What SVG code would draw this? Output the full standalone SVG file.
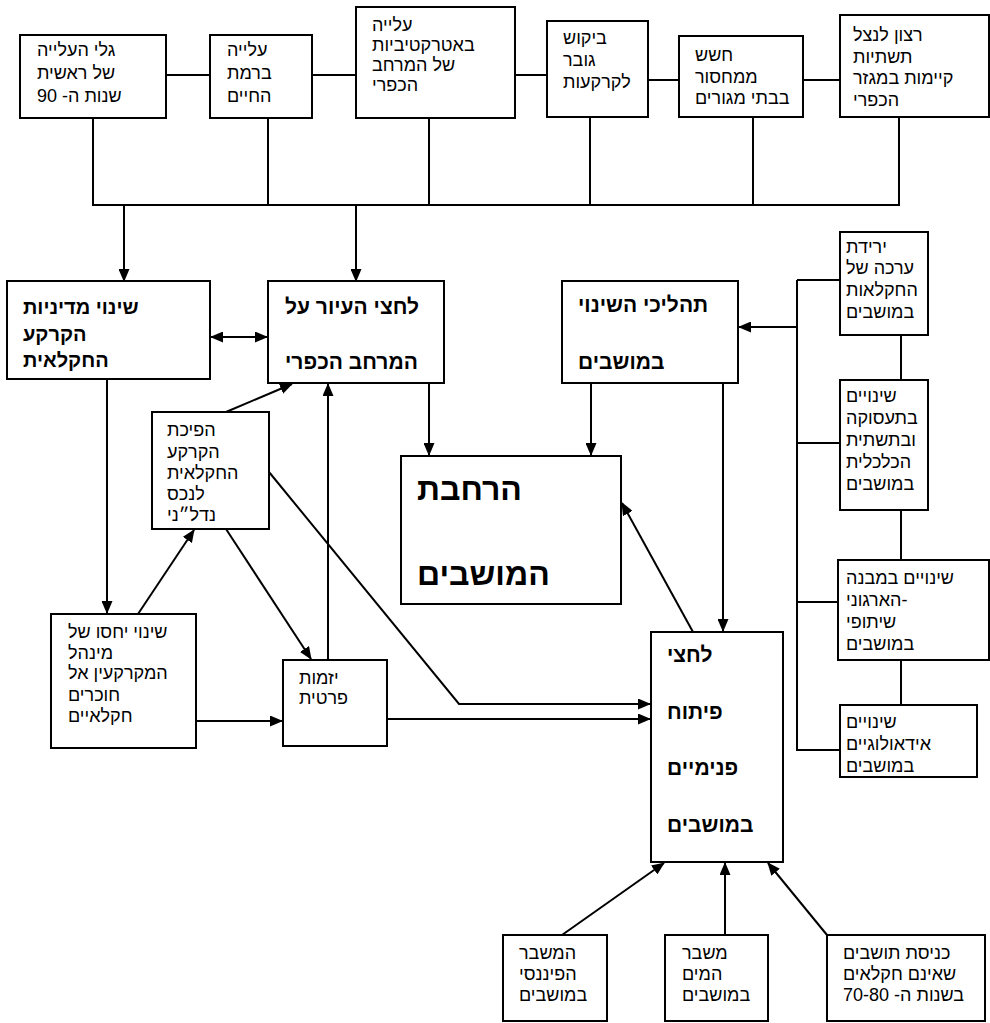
<svg xmlns="http://www.w3.org/2000/svg" width="990" height="1023" viewBox="0 0 990 1023">
<defs>
<marker id="ah" markerUnits="userSpaceOnUse" markerWidth="13" markerHeight="11" refX="12" refY="5.5" orient="auto-start-reverse" viewBox="0 0 13 11">
<path d="M0,0 L13,5.5 L0,11 z" fill="#000"/>
</marker>
<style>
rect{fill:#fff;stroke:#000;stroke-width:2}
.t{font-family:"Liberation Sans","DejaVu Sans",sans-serif;font-size:18px;fill:#000}
.b{font-family:"Liberation Sans","DejaVu Sans",sans-serif;font-size:21px;font-weight:bold;fill:#000}
.B{font-family:"Liberation Sans","DejaVu Sans",sans-serif;font-size:32px;font-weight:bold;fill:#000}
.c line,.c polyline{stroke:#000;stroke-width:2;fill:none}
.a{marker-end:url(#ah)}
</style>
</defs>
<rect x="0" y="0" width="990" height="1023" style="fill:#fff;stroke:none"/>
<g class="c" id="connectors">
<line x1="166" y1="75" x2="210" y2="75"/>
<line x1="312" y1="75" x2="356" y2="75"/>
<line x1="515" y1="75" x2="547" y2="75"/>
<line x1="648" y1="80" x2="679" y2="80"/>
<line x1="803" y1="80" x2="840" y2="80"/>
<line x1="93" y1="118" x2="93" y2="205"/>
<line x1="268" y1="118" x2="268" y2="205"/>
<line x1="429" y1="118" x2="429" y2="205"/>
<line x1="590" y1="117" x2="590" y2="205"/>
<line x1="753" y1="117" x2="753" y2="205"/>
<line x1="899" y1="117" x2="899" y2="205"/>
<line x1="92" y1="205" x2="900" y2="205"/>
<line class="a" x1="124" y1="205" x2="124" y2="281"/>
<line class="a" x1="356" y1="205" x2="356" y2="281"/>
<line class="a" x1="211" y1="337" x2="267" y2="337" style="marker-start:url(#ah)"/>
<line class="a" x1="107" y1="379" x2="107" y2="613"/>
<line class="a" x1="138" y1="614" x2="194" y2="530"/>
<line class="a" x1="226" y1="412" x2="292" y2="384"/>
<line class="a" x1="226" y1="529" x2="311" y2="659"/>
<line class="a" x1="328" y1="660" x2="328" y2="384"/>
<line class="a" x1="196" y1="721" x2="282" y2="721"/>
<polyline class="a" points="269,472 459,704 650,704"/>
<line class="a" x1="387" y1="719" x2="650" y2="719"/>
<line class="a" x1="429" y1="383" x2="429" y2="455"/>
<line class="a" x1="591" y1="383" x2="591" y2="455"/>
<line class="a" x1="723" y1="383" x2="723" y2="631"/>
<line class="a" x1="693" y1="632" x2="622" y2="503"/>
<line x1="797" y1="280" x2="797" y2="751"/>
<line x1="797" y1="280" x2="840" y2="280"/>
<line x1="797" y1="443" x2="840" y2="443"/>
<line x1="797" y1="602" x2="838" y2="602"/>
<line x1="797" y1="750" x2="840" y2="750"/>
<line class="a" x1="797" y1="327" x2="739" y2="327"/>
<line x1="901" y1="335" x2="901" y2="380"/>
<line x1="901" y1="510" x2="901" y2="560"/>
<line x1="901" y1="660" x2="901" y2="705"/>
<line class="a" x1="562" y1="935" x2="664" y2="863"/>
<line class="a" x1="725" y1="935" x2="725" y2="863"/>
<line class="a" x1="827" y1="935" x2="768" y2="863"/>
</g>
<g id="n_top1"><rect x="20" y="35" width="146" height="83"/>
<text class="t" x="37" y="56">גלי העלייה</text><text class="t" x="37" y="79">של ראשית</text><text class="t" x="37" y="102">שנות ה- 90</text></g>
<g id="n_top2"><rect x="210" y="35" width="102" height="83"/>
<text class="t" x="227" y="56">עלייה</text><text class="t" x="227" y="79">ברמת</text><text class="t" x="227" y="102">החיים</text></g>
<g id="n_top3"><rect x="356" y="7" width="159" height="111"/>
<text class="t" x="372" y="31">עלייה</text><text class="t" x="372" y="51">באטרקטיביות</text><text class="t" x="372" y="71">של המרחב</text><text class="t" x="372" y="91">הכפרי</text></g>
<g id="n_top4"><rect x="547" y="21" width="101" height="96"/>
<text class="t" x="563" y="44">ביקוש</text><text class="t" x="563" y="66">גובר</text><text class="t" x="563" y="88">לקרקעות</text></g>
<g id="n_top5"><rect x="679" y="36" width="124" height="81"/>
<text class="t" x="695" y="61">חשש</text><text class="t" x="695" y="83">ממחסור</text><text class="t" x="695" y="104">בבתי מגורים</text></g>
<g id="n_top6"><rect x="840" y="15" width="149" height="102"/>
<text class="t" x="853" y="41">רצון לנצל</text><text class="t" x="853" y="63">תשתיות</text><text class="t" x="853" y="84">קיימות במגזר</text><text class="t" x="853" y="106">הכפרי</text></g>
<g id="n_policy"><rect x="7" y="281" width="203" height="98"/>
<text class="b" x="23" y="314" style="font-size:20px">שינוי מדיניות</text><text class="b" x="23" y="341" style="font-size:20px">הקרקע</text><text class="b" x="23" y="367" style="font-size:20px">החקלאית</text></g>
<g id="n_urban"><rect x="268" y="281" width="176" height="102"/>
<text class="b" x="285" y="314">לחצי העיור על</text><text class="b" x="285" y="369">המרחב הכפרי</text></g>
<g id="n_change"><rect x="562" y="281" width="176" height="102"/>
<text class="b" x="578" y="312">תהליכי השינוי</text><text class="b" x="578" y="369">במושבים</text></g>
<g id="n_expand"><rect x="401" y="456" width="220" height="148"/>
<text class="B" x="417" y="500">הרחבת</text><text class="B" x="417" y="585">המושבים</text></g>
<g id="n_realestate"><rect x="152" y="412" width="117" height="117"/>
<text class="t" x="167" y="436">הפיכת</text><text class="t" x="167" y="458">הקרקע</text><text class="t" x="167" y="479">החקלאית</text><text class="t" x="167" y="500">לנכס</text><text class="t" x="167" y="521">נדל״ני</text></g>
<g id="n_ila"><rect x="51" y="614" width="145" height="134"/>
<text class="t" x="68" y="638">שינוי יחסו של</text><text class="t" x="68" y="659">מינהל</text><text class="t" x="68" y="679">המקרקעין אל</text><text class="t" x="68" y="701">חוכרים</text><text class="t" x="68" y="722">חקלאיים</text></g>
<g id="n_private"><rect x="283" y="660" width="104" height="86"/>
<text class="t" x="299" y="684">יזמות</text><text class="t" x="299" y="704">פרטית</text></g>
<g id="n_internal"><rect x="651" y="632" width="132" height="230"/>
<text class="b" x="667" y="662">לחצי</text><text class="b" x="667" y="719">פיתוח</text><text class="b" x="667" y="775">פנימיים</text><text class="b" x="667" y="832">במושבים</text></g>
<g id="n_r1"><rect x="840" y="232" width="88" height="103"/>
<text class="t" x="846" y="253">ירידת</text><text class="t" x="846" y="274">ערכה של</text><text class="t" x="846" y="296">החקלאות</text><text class="t" x="846" y="318">במושבים</text></g>
<g id="n_r2"><rect x="840" y="380" width="88" height="130"/>
<text class="t" x="846" y="402">שינויים</text><text class="t" x="846" y="424">בתעסוקה</text><text class="t" x="846" y="446">ובתשתית</text><text class="t" x="846" y="468">הכלכלית</text><text class="t" x="846" y="490">במושבים</text></g>
<g id="n_r3"><rect x="838" y="560" width="151" height="100"/>
<text class="t" x="846" y="584">שינויים במבנה</text><text class="t" x="846" y="606">הארגוני-</text><text class="t" x="846" y="628">שיתופי</text><text class="t" x="846" y="650">במושבים</text></g>
<g id="n_r4"><rect x="840" y="705" width="137" height="72"/>
<text class="t" x="846" y="728">שינויים</text><text class="t" x="846" y="750">אידאולוגיים</text><text class="t" x="846" y="772">במושבים</text></g>
<g id="n_fin"><rect x="503" y="935" width="104" height="86"/>
<text class="t" x="519" y="959">המשבר</text><text class="t" x="519" y="980">הפיננסי</text><text class="t" x="519" y="1001">במושבים</text></g>
<g id="n_water"><rect x="665" y="935" width="103" height="86"/>
<text class="t" x="682" y="959">משבר</text><text class="t" x="682" y="980">המים</text><text class="t" x="682" y="1001">במושבים</text></g>
<g id="n_settlers"><rect x="827" y="935" width="158" height="86"/>
<text class="t" x="843" y="959">כניסת תושבים</text><text class="t" x="843" y="980">שאינם חקלאים</text><text class="t" x="843" y="1001">בשנות ה- 70-80</text></g>
</svg>
